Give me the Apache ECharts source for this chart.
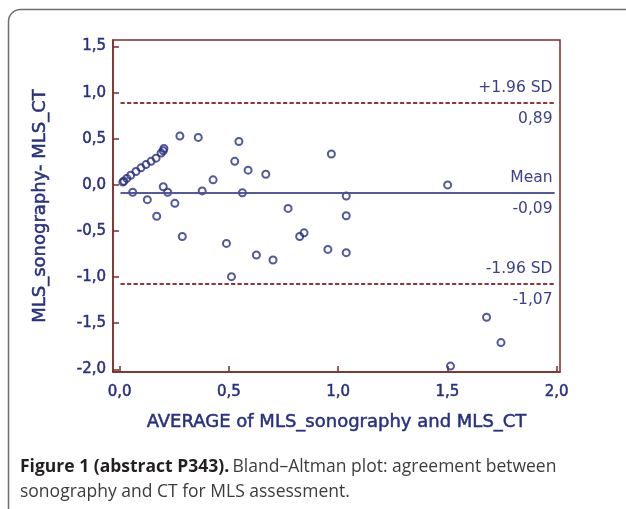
<!DOCTYPE html>
<html>
<head>
<meta charset="utf-8">
<script src="https://cdn.jsdelivr.net/npm/echarts@6.0.0/dist/echarts.min.js"></script>
<style>
html,body{margin:0;padding:0;background:#fff;}
#chart{width:626px;height:509px;}
</style>
</head>
<body>
<div id="chart"></div>
<script>
// Average of MLS_sonography and MLS_CT (x) and their difference (y)
const avgValues = [
  0.015, 0.020, 0.033, 0.051, 0.075, 0.098, 0.121, 0.144, 0.167, 0.190, 0.200, 0.203,
  0.060, 0.127, 0.170, 0.200, 0.220, 0.253, 0.276, 0.287, 0.360, 0.378, 0.428,
  0.489, 0.512, 0.527, 0.546, 0.562, 0.588, 0.626, 0.669, 0.702, 0.771, 0.824,
  0.844, 0.953, 0.969, 1.037, 1.037, 1.037, 1.501, 1.514, 1.679, 1.745
];
const diffValues = [
  0.030, 0.040, 0.070, 0.105, 0.145, 0.185, 0.220, 0.255, 0.290, 0.345, 0.370, 0.395,
  -0.080, -0.160, -0.340, -0.020, -0.080, -0.200, 0.530, -0.560, 0.515, -0.065, 0.055,
  -0.635, -0.995, 0.255, 0.470, -0.085, 0.160, -0.760, 0.115, -0.815, -0.255, -0.560,
  -0.520, -0.700, 0.335, -0.120, -0.335, -0.735, 0.000, -1.965, -1.435, -1.710
];
const xTickValues = [0, 0.5, 1.0, 1.5, 2.0];
const yTickValues = [-2.0, -1.5, -1.0, -0.5, 0.0, 0.5, 1.0, 1.5];
const limitNames = ['+1.96 SD', 'Mean', '-1.96 SD'];
const limitValues = [0.89, -0.09, -1.07];
const limitLabels = ['0,89', '-0,09', '-1,07'];
const limitSpan = [0.005, 1.99];

const navy = '#283080';
const frame = '#7a2c2c';
const font = 'DejaVu Sans';
const comma = v => v.toFixed(1).replace('.', ',');
const faux = { textBorderColor: navy, textBorderWidth: 0.5 };

const points = avgValues.map((x, i) => [x, diffValues[i]]);

const markData = [];
limitNames.forEach((name, i) => {
  const v = limitValues[i];
  const isMean = name === 'Mean';
  const ls = isMean
    ? { color: '#4a4f93', width: 1.5, type: 'solid' }
    : { color: '#8a2a2a', width: 1.5, type: [4, 2.5] };
  markData.push([
    { coord: [limitSpan[0], v], lineStyle: ls,
      label: { show: true, position: 'insideEndTop', formatter: name, distance: [2, 7] } },
    { coord: [limitSpan[1], v] }
  ]);
  markData.push([
    { coord: [limitSpan[0], v], lineStyle: ls,
      label: { show: true, position: 'insideEndBottom', formatter: limitLabels[i], distance: [2, 8] } },
    { coord: [limitSpan[1], v] }
  ]);
});

const chart = echarts.init(document.getElementById('chart'), null, { renderer: 'canvas' });
chart.setOption({
  animation: false,
  backgroundColor: '#ffffff',
  grid: {
    left: 113, right: 66, top: 40, bottom: 137,
    show: true, borderColor: frame, borderWidth: 1.5, backgroundColor: 'transparent'
  },
  xAxis: {
    type: 'value', min: -0.03, max: 2.015,
    name: 'AVERAGE of MLS_sonography and MLS_CT',
    nameLocation: 'middle', nameGap: 41,
    nameTextStyle: Object.assign({ fontFamily: font, fontSize: 18, color: navy }, faux),
    axisLine: { show: true, onZero: false, lineStyle: { color: frame, width: 1.5 } },
    axisTick: { show: true, inside: true, length: 6, customValues: xTickValues, lineStyle: { color: frame, width: 1.5 } },
    axisLabel: Object.assign({ customValues: xTickValues, formatter: comma, fontFamily: font, fontSize: 15, color: navy, margin: 13 }, faux),
    splitLine: { show: false }
  },
  yAxis: {
    type: 'value', min: -2.029, max: 1.571,
    name: 'MLS_sonography- MLS_CT',
    nameLocation: 'middle', nameGap: 64,
    nameTextStyle: Object.assign({ fontFamily: font, fontSize: 18, color: navy }, faux),
    axisLine: { show: true, onZero: false, lineStyle: { color: frame, width: 1.5 } },
    axisTick: { show: true, inside: true, length: 6, customValues: yTickValues, lineStyle: { color: frame, width: 1.5 } },
    axisLabel: Object.assign({ customValues: yTickValues, formatter: comma, fontFamily: font, fontSize: 15, color: navy, margin: 7 }, faux),
    splitLine: { show: false }
  },
  series: [{
    type: 'scatter',
    data: points,
    symbol: 'circle',
    symbolSize: 7,
    itemStyle: { color: 'rgba(0,0,0,0)', borderColor: navy, borderWidth: 2 },
    markLine: {
      silent: true,
      symbol: 'none',
      label: { fontFamily: font, fontSize: 15.5, color: '#3b3f8c' },
      emphasis: { disabled: true },
      data: markData
    }
  }],
  graphic: [
    {
      type: 'rect', silent: true,
      shape: { x: 8.5, y: 9.5, width: 660, height: 600, r: 12 },
      style: { fill: 'none', stroke: '#6e6e6e', lineWidth: 1.5 }
    },
    {
      type: 'text', left: 20, top: 458, silent: true,
      style: {
        text: '{b|Figure 1 (abstract P343).} {n|Bland–Altman plot: agreement between}\n{n|sonography and CT for MLS assessment.}',
        rich: {
          b: { fontFamily: 'Open Sans', fontWeight: 'bold', fontSize: 17.5, fill: '#231f20', lineHeight: 25 },
          n: { fontFamily: 'Open Sans', fontSize: 17.5, fill: '#3c3c3c', lineHeight: 25 }
        }
      }
    }
  ]
});
</script>
</body>
</html>
